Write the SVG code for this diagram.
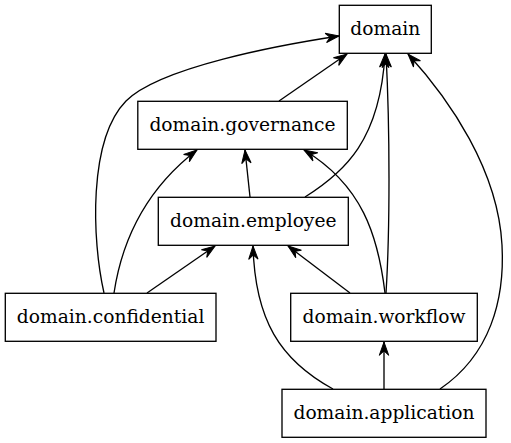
<svg xmlns="http://www.w3.org/2000/svg" width="511" height="443" viewBox="0 0 511 443">
<defs>
<style>
.node rect{fill:#fff;stroke:#000;stroke-width:1.33}
.node text{font-family:"DejaVu Serif","Liberation Serif",serif;font-size:18.67px;text-anchor:middle;fill:#000}
.edges path{fill:none;stroke:#000;stroke-width:1.33;marker-end:url(#vee)}
</style>
<marker id="vee" markerUnits="userSpaceOnUse" markerWidth="16" markerHeight="12" viewBox="0 -6 14 12" refX="13.3" refY="0" orient="auto">
<path d="M0,-4.7 L13.3,0 L0,4.7 L4.4,0 Z" fill="#000" stroke="#000" stroke-width="1"/>
</marker>
</defs>
<rect width="511" height="443" fill="#fff"/>
<g class="edges" id="edges">
<path d="M104,293 C92,240 88,140 126,101 C160,67 280,45 339,36"/>
<path d="M114,293 C122,240 145,190 197,150"/>
<path d="M147,293 L215,246"/>
<path d="M279,101 L347,54"/>
<path d="M250,197 L245,150"/>
<path d="M305,197 C345,172 380,140 385,54"/>
<path d="M385,293 C378,235 362,185 304,150"/>
<path d="M350,293 L288,246"/>
<path d="M386,293 C390,230 390,130 386,54"/>
<path d="M333,389 C280,360 255,320 253,246"/>
<path d="M384,389 L384,342"/>
<path d="M440,389 C490,355 505,300 502,245 C498,170 450,100 408,54"/>
</g>
<g class="node" id="domain"><rect x="339.3" y="5.3" width="92" height="48"/><text x="385.3" y="34.9">domain</text></g>
<g class="node" id="governance"><rect x="137.8" y="101.3" width="209.5" height="48"/><text x="242.5" y="130.9">domain.governance</text></g>
<g class="node" id="employee"><rect x="158.3" y="197.3" width="190" height="48"/><text x="253.3" y="226.9">domain.employee</text></g>
<g class="node" id="confidential"><rect x="5.3" y="293.3" width="210.7" height="48"/><text x="110.6" y="322.9">domain.confidential</text></g>
<g class="node" id="workflow"><rect x="290.7" y="293.3" width="186.6" height="48"/><text x="384" y="322.9">domain.workflow</text></g>
<g class="node" id="application"><rect x="282" y="389.3" width="204" height="48"/><text x="384" y="418.9">domain.application</text></g>
</svg>
